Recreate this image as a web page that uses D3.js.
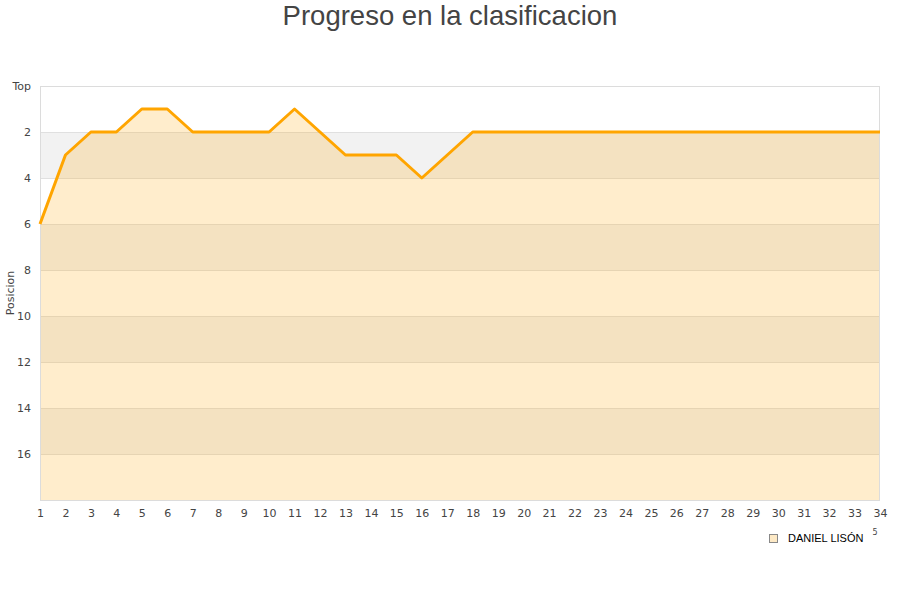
<!DOCTYPE html>
<html><head><meta charset="utf-8">
<script src="https://cdn.jsdelivr.net/npm/d3@7/dist/d3.min.js"></script>
<style>body{margin:0;background:#fff;font-family:"DejaVu Sans",sans-serif;}</style>
</head><body><svg id="c" width="900" height="600"></svg>
<script>
const jornadas = d3.range(1, 35);
const posiciones = [6,3,2,2,1,1,2,2,2,2,1,2,3,3,3,4,3,2,2,2,2,2,2,2,2,2,2,2,2,2,2,2,2,2];
const yTicks = [0,2,4,6,8,10,12,14,16];
const yTickLabels = ["Top","2","4","6","8","10","12","14","16"];
const serieNombre = "DANIEL LISÓN";
const titulo = "Progreso en la clasificacion";

const svg = d3.select("#c");
const L=40,R=880,T=86,B=500;
const x = d3.scaleLinear().domain([1,34]).range([L,R]);
const y = d3.scaleLinear().domain([0,18]).range([T,B]);

// bands
const bands = d3.range(0,18,2);
svg.selectAll("rect.band").data(bands).join("rect")
  .attr("x",L).attr("width",R-L)
  .attr("y",d=>y(d)).attr("height",d=>y(d+2)-y(d))
  .attr("fill",(d,i)=> i%2===1 ? "#f2f2f2" : "#ffffff");

// grid
svg.selectAll("line.grid").data(yTicks.slice(1)).join("line")
  .attr("x1",L).attr("x2",R).attr("y1",d=>y(d)+0.5).attr("y2",d=>y(d)+0.5)
  .attr("stroke","#e0e0e0").attr("stroke-width",1);

// area
const data = jornadas.map((j,i)=>({j,p:posiciones[i]}));
svg.append("path").datum(data)
  .attr("d", d3.area().x(d=>x(d.j)).y0(y(18)).y1(d=>y(d.p)))
  .attr("fill","rgb(255,165,0)").attr("fill-opacity",0.2);

// border
svg.append("rect").attr("x",L+0.5).attr("y",T+0.5).attr("width",R-L-1).attr("height",B-T)
  .attr("fill","none").attr("stroke","#dcdcdc");

// line
svg.append("path").datum(data)
  .attr("d", d3.line().x(d=>x(d.j)).y(d=>y(d.p)))
  .attr("fill","none").attr("stroke","#ffa500").attr("stroke-width",3).attr("stroke-linejoin","round");

// y labels
svg.selectAll("text.yl").data(yTicks).join("text")
  .attr("x",31).attr("y",d=>y(d)).attr("dy","0.35em").attr("text-anchor","end")
  .attr("font-size",11).attr("fill","#444").text((d,i)=>yTickLabels[i]);

// x labels
const xa = svg.append("g").attr("transform",`translate(0,${B})`)
  .call(d3.axisBottom(x).tickValues(jornadas).tickFormat(d3.format("d")).tickSize(0).tickPadding(9));
xa.select(".domain").remove();
xa.selectAll("text").attr("font-size",11).attr("fill","#444").attr("font-family","DejaVu Sans");

// axis title
svg.append("text").attr("transform","translate(14,293) rotate(-90)").attr("text-anchor","middle")
  .attr("font-size",11).attr("fill","#444").text("Posicion");

// title
svg.append("text").attr("x",450).attr("y",25).attr("text-anchor","middle")
  .attr("font-size",27.5).attr("fill","#444").attr("font-family","Liberation Sans, Arial, sans-serif").text(titulo);

// legend
svg.append("rect").attr("x",769.5).attr("y",534.5).attr("width",8).attr("height",8)
  .attr("fill","#fde9c5").attr("stroke","#888");
svg.append("text").attr("x",788).attr("y",538).attr("dy","0.35em")
  .attr("font-size",11).attr("fill","#000").attr("font-family","Liberation Sans, Arial, sans-serif").text(serieNombre);
svg.append("text").attr("x",875).attr("y",535).attr("text-anchor","middle")
  .attr("font-size",8).attr("fill","#444").text("5");
</script></body></html>
